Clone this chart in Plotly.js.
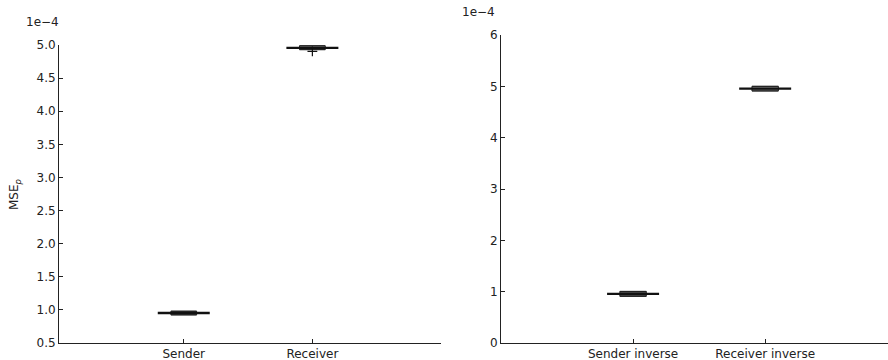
<!DOCTYPE html>
<html>
<head>
<meta charset="utf-8">
<script src="https://cdn.plot.ly/plotly-3.0.1.min.js"></script>
<style>html,body{margin:0;padding:0;background:#fff}#chart{width:888px;height:360px}</style>
</head>
<body>
<div id="chart"></div>
<script>
// values in units of 1e-4
const leftCategories = ["Sender", "Receiver"];
const leftLower  = [0.950, 4.955];
const leftQ1     = [0.925, 4.930];
const leftMedian = [0.953, 4.958];
const leftQ3     = [0.980, 4.988];
const leftUpper  = [0.955, 4.960];
const leftFlierX = [2];
const leftFlierY = [4.905];

const rightCategories = ["Sender inverse", "Receiver inverse"];
const rightLower  = [0.955, 4.952];
const rightQ1     = [0.91, 4.91];
const rightMedian = [0.958, 4.955];
const rightQ3     = [1.005, 5.00];
const rightUpper  = [0.961, 4.958];

const leftYTicks = [0.5, 1.0, 1.5, 2.0, 2.5, 3.0, 3.5, 4.0, 4.5, 5.0];
const rightYTicks = [0, 1, 2, 3, 4, 5, 6];

const fills = ["rgba(70,70,70,0.95)", "rgba(140,140,140,0.95)"];
const font = {family: "DejaVu Sans", size: 12, color: "#222"};

const traces = [];
function addPanel(cats, lo, q1, med, q3, hi, xa, ya) {
  cats.forEach((c, i) => {
    traces.push({
      type: "box", x: [i + 1], q1: [q1[i]], median: [med[i]], q3: [q3[i]],
      lowerfence: [q1[i]], upperfence: [q3[i]], width: 0.2, whiskerwidth: 1,
      fillcolor: fills[i], line: {color: "#222", width: 1},
      boxpoints: false, xaxis: xa, yaxis: ya, showlegend: false, hoverinfo: "y"
    });
  });
  traces.push({
    type: "scatter", mode: "markers", x: cats.map((c, i) => i + 1), y: med,
    marker: {size: 1, color: "rgba(0,0,0,0)"},
    error_y: {type: "data", symmetric: false,
      array: hi.map((v, i) => v - med[i]), arrayminus: lo.map((v, i) => med[i] - v),
      width: 26, thickness: 2, color: "#111"},
    xaxis: xa, yaxis: ya, showlegend: false, hoverinfo: "skip"
  });
}
addPanel(leftCategories, leftLower, leftQ1, leftMedian, leftQ3, leftUpper, "x", "y");
addPanel(rightCategories, rightLower, rightQ1, rightMedian, rightQ3, rightUpper, "x2", "y2");
traces.push({
  type: "scatter", mode: "markers", x: leftFlierX, y: leftFlierY,
  marker: {symbol: "cross-thin", size: 7, line: {width: 1.2, color: "#111"}},
  xaxis: "x", yaxis: "y", showlegend: false
});

const axisCommon = {
  showgrid: false, zeroline: false, showline: true, linecolor: "#222", linewidth: 1,
  ticks: "inside", ticklen: 4, tickcolor: "#222", tickwidth: 1, tickfont: font,
  fixedrange: true
};
const bottom = 1 - 343 / 360;
const layout = {
  width: 888, height: 360, margin: {l: 0, r: 0, t: 0, b: 0},
  paper_bgcolor: "#fff", plot_bgcolor: "#fff", font: font,
  xaxis: Object.assign({}, axisCommon, {domain: [59 / 888, 441 / 888], range: [0.03, 3.0],
    tickvals: [1, 2], ticktext: leftCategories, anchor: "y"}),
  yaxis: Object.assign({}, axisCommon, {domain: [bottom, 1 - 45 / 360], range: [0.5, 5.0],
    tickvals: leftYTicks, ticktext: leftYTicks.map(v => v.toFixed(1)), anchor: "x"}),
  xaxis2: Object.assign({}, axisCommon, {domain: [501 / 888, 1], range: [0, 2.93],
    tickvals: [1, 2], ticktext: rightCategories, anchor: "y2"}),
  yaxis2: Object.assign({}, axisCommon, {domain: [bottom, 1 - 35 / 360], range: [0, 6],
    tickvals: rightYTicks, ticktext: rightYTicks.map(String), anchor: "x2"}),
  annotations: [
    {text: "1e\u22124", xref: "paper", yref: "paper", x: 24 / 888, y: 1 - 22 / 360,
     xanchor: "left", yanchor: "middle", showarrow: false, font: font},
    {text: "1e\u22124", xref: "paper", yref: "paper", x: 460 / 888, y: 1 - 12 / 360,
     xanchor: "left", yanchor: "middle", showarrow: false, font: font},
    {text: "MSE<sub><i>p</i></sub>", xref: "paper", yref: "paper", x: 15 / 888, y: 1 - 195 / 360,
     xanchor: "center", yanchor: "middle", textangle: -90, showarrow: false, font: font}
  ]
};
Plotly.newPlot("chart", traces, layout, {displayModeBar: false, staticPlot: true});
</script>
</body>
</html>
